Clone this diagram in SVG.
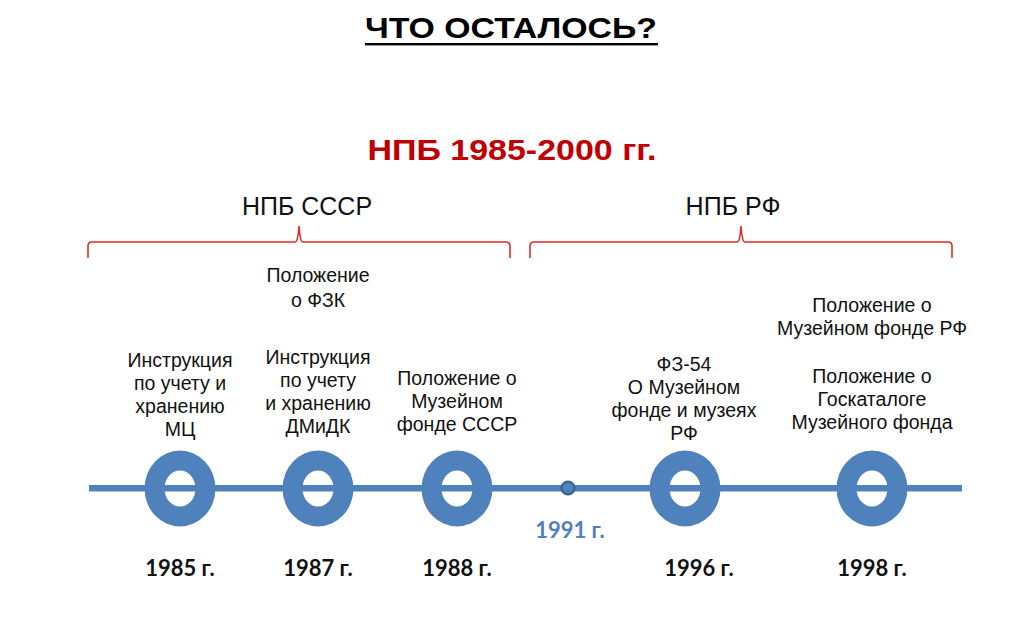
<svg xmlns="http://www.w3.org/2000/svg" width="1024" height="639" viewBox="0 0 1024 639">
<style>
.t{font-family:"Liberation Sans",Arial,sans-serif;font-size:19.5px;fill:#111;text-anchor:middle}
.h{font-family:"Liberation Sans",Arial,sans-serif;font-size:25px;fill:#111;text-anchor:middle}
.yr{font-family:Lato,"Liberation Sans",sans-serif;font-weight:bold;font-size:22px;fill:#111;text-anchor:middle}
.ring{fill:#4f81bd;fill-rule:evenodd}
.brace{fill:none;stroke:#e02a2a;stroke-width:1.6}
</style>
<rect width="1024" height="639" fill="#fff"/>
<g id="title">
<text x="511" y="38" font-family="Liberation Sans,Arial,sans-serif" font-weight="bold" font-size="30" fill="#000" text-anchor="middle" textLength="292" lengthAdjust="spacingAndGlyphs">ЧТО ОСТАЛОСЬ?</text>
<rect x="365" y="43" width="293" height="2.4" fill="#000"/>
</g>
<g id="subtitle">
<text x="512" y="160" font-family="Liberation Sans,Arial,sans-serif" font-weight="bold" font-size="30" fill="#c00000" text-anchor="middle" textLength="289" lengthAdjust="spacingAndGlyphs">НПБ 1985-2000 гг.</text>
</g>
<g id="period-ussr">
<text class="h" x="307" y="215">НПБ СССР</text>
<path class="brace" d="M88,258 L88,246 Q88,242 92,242 L295,242 Q298,242 299,226 Q300,242 303,242 L506,242 Q510,242 510,246 L510,258"/>
</g>
<g id="period-rf">
<text class="h" x="733" y="215">НПБ РФ</text>
<path class="brace" d="M530,258 L530,246 Q530,242 534,242 L737,242 Q740,242 741,226 Q742,242 745,242 L948,242 Q952,242 952,246 L952,258"/>
</g>
<g id="connectors">
<rect x="89" y="485" width="873" height="6.5" fill="#4f81bd"/>
</g>
<g id="node-1985">
<path class="ring" d="M144.5,488.5 a35.5,38 0 1,0 71,0 a35.5,38 0 1,0 -71,0 Z M164.5,488.5 a15.5,18 0 1,0 31,0 a15.5,18 0 1,0 -31,0 Z"/>
<text class="t" x="180" y="367">Инструкция</text>
<text class="t" x="180" y="390">по учету и</text>
<text class="t" x="180" y="413">хранению</text>
<text class="t" x="180" y="436">МЦ</text>
<text class="yr" x="180" y="576">1985 г.</text>
</g>
<g id="node-1987">
<path class="ring" d="M282.5,488.5 a35.5,38 0 1,0 71,0 a35.5,38 0 1,0 -71,0 Z M302.5,488.5 a15.5,18 0 1,0 31,0 a15.5,18 0 1,0 -31,0 Z"/>
<text class="t" x="318" y="282">Положение</text>
<text class="t" x="318" y="307">о ФЗК</text>
<text class="t" x="318" y="364">Инструкция</text>
<text class="t" x="318" y="387">по учету</text>
<text class="t" x="318" y="410">и хранению</text>
<text class="t" x="318" y="433">ДМиДК</text>
<text class="yr" x="318" y="576">1987 г.</text>
</g>
<g id="node-1988">
<path class="ring" d="M421.5,488.5 a35.5,38 0 1,0 71,0 a35.5,38 0 1,0 -71,0 Z M441.5,488.5 a15.5,18 0 1,0 31,0 a15.5,18 0 1,0 -31,0 Z"/>
<text class="t" x="457" y="385">Положение о</text>
<text class="t" x="457" y="408">Музейном</text>
<text class="t" x="457" y="431">фонде СССР</text>
<text class="yr" x="457" y="576">1988 г.</text>
</g>
<g id="node-1991">
<circle cx="568" cy="488" r="6.5" fill="#4f81bd" stroke="#385d8a" stroke-width="2"/>
<text x="570" y="538" font-family="Lato,'Liberation Sans',sans-serif" font-weight="bold" font-size="22" fill="#4f81bd" text-anchor="middle">1991 г.</text>
</g>
<g id="node-1996">
<path class="ring" d="M649.5,488.5 a35.5,38 0 1,0 71,0 a35.5,38 0 1,0 -71,0 Z M669.5,488.5 a15.5,18 0 1,0 31,0 a15.5,18 0 1,0 -31,0 Z"/>
<text class="t" x="684" y="371">ФЗ-54</text>
<text class="t" x="684" y="394">О Музейном</text>
<text class="t" x="684" y="417">фонде и музеях</text>
<text class="t" x="684" y="440">РФ</text>
<text class="yr" x="699" y="576">1996 г.</text>
</g>
<g id="node-1998">
<path class="ring" d="M836.5,488.5 a35.5,38 0 1,0 71,0 a35.5,38 0 1,0 -71,0 Z M856.5,488.5 a15.5,18 0 1,0 31,0 a15.5,18 0 1,0 -31,0 Z"/>
<text class="t" x="872" y="312">Положение о</text>
<text class="t" x="872" y="335">Музейном фонде РФ</text>
<text class="t" x="872" y="383">Положение о</text>
<text class="t" x="872" y="406">Госкаталоге</text>
<text class="t" x="872" y="429">Музейного фонда</text>
<text class="yr" x="872" y="576">1998 г.</text>
</g>
</svg>
